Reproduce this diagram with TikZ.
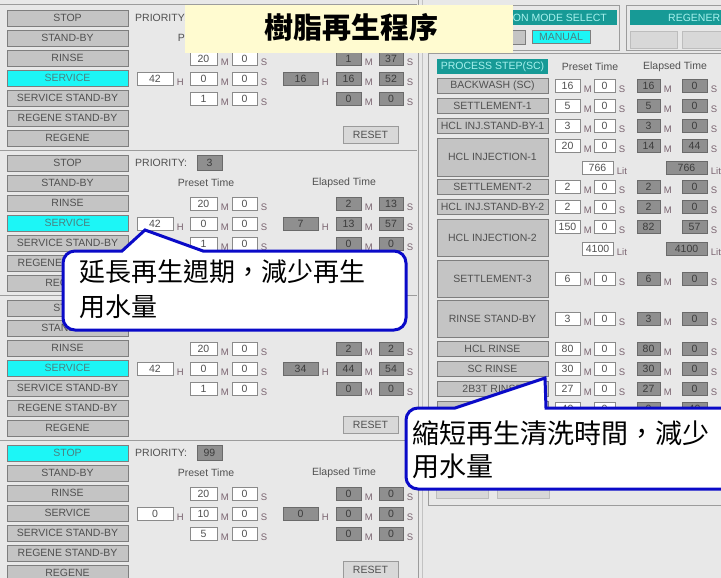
\documentclass[tikz,border=0pt]{standalone}
\usepackage{fontspec}
\setmainfont{Liberation Sans}
\newfontfamily\cjk{Noto Sans CJK TC}

\definecolor{bg}{HTML}{E8E8E8}
\definecolor{btnfill}{HTML}{C4C4C4}
\definecolor{btnedge}{HTML}{7E7E7E}
\definecolor{btntext}{HTML}{505050}
\definecolor{oncyan}{HTML}{1CF6F6}
\definecolor{ontext}{HTML}{4A8080}
\definecolor{boxedge}{HTML}{8A8A8A}
\definecolor{valtext}{HTML}{505050}
\definecolor{elapfill}{HTML}{8F8F8F}
\definecolor{elapedge}{HTML}{6A6A6A}
\definecolor{elaptext}{HTML}{3C3C3C}
\definecolor{unitcol}{HTML}{7A6470}
\definecolor{lbltext}{HTML}{505050}
\definecolor{hdrteal}{HTML}{179A96}
\definecolor{hdrtext}{HTML}{A8F2EE}
\definecolor{dimbtn}{HTML}{D8D8D8}
\definecolor{dimedge}{HTML}{BDBDBD}
\definecolor{resetfill}{HTML}{D8D8D8}
\definecolor{resetedge}{HTML}{9A9A9A}
\definecolor{rule}{HTML}{9C9C9C}
\definecolor{titlebg}{HTML}{FFFBD0}
\definecolor{callblue}{HTML}{0A0AC8}

% value box with its unit letter
\newcommand{\tcell}[6]{%
  \node[#4, minimum width=#3pt] (#1) at (#2) {#5};
  \node[unit] (#1u) at ([xshift=3.5pt]#1.south east) {#6};
}

\begin{document}
\begin{tikzpicture}[x=1pt, y=-1pt,
  txt/.style={font=\fontsize{10.5}{12}\selectfont},
  btn/.style={txt, draw=btnedge, fill=btnfill, text=btntext, minimum height=16pt, inner sep=0pt},
  btnon/.style={btn, fill=oncyan, text=ontext},
  dim/.style={draw=dimedge, fill=dimbtn, inner sep=0pt},
  hdr/.style={txt, fill=hdrteal, text=hdrtext, inner sep=0pt, minimum height=15pt},
  pv/.style={txt, draw=boxedge, fill=white, text=valtext, minimum height=13pt, inner sep=0pt},
  ev/.style={pv, draw=elapedge, fill=elapfill, text=elaptext},
  unit/.style={anchor=south west, inner sep=0pt, text=unitcol, font=\fontsize{9.5}{10}\selectfont},
  lbl/.style={txt, inner sep=0pt, text=lbltext},
  reset/.style={btn, fill=resetfill, draw=resetedge, minimum width=55pt, minimum height=17pt},
  sep/.style={draw=rule, line width=1pt},
  callout/.style={draw=callblue, line width=3pt, fill=white},
  note/.style={font=\cjk\fontsize{26}{35}\selectfont, align=left, anchor=north west, inner sep=0pt}
]
\useasboundingbox (0,0) rectangle (721,578);
\fill[bg] (0,0) rectangle (721,578);

% left panel, four units
\foreach \off/\on [count=\kk] in {0/3,145/3,290/3,435/0}{
  \draw[sep] (0,\off+5) -- (417,\off+5);
  \foreach \lbl [count=\row from 0] in {STOP,STAND-BY,RINSE,SERVICE,SERVICE STAND-BY,REGENE STAND-BY,REGENE}{
    \ifnum\row=\on \def\sty{btnon}\else\def\sty{btn}\fi
    \node[\sty, minimum width=121pt] (u\kk b\row) at (67.5,\off+18+20*\row) {\lbl};
  }
}
\node[lbl, anchor=west] (pr1) at (135,18) {PRIORITY:};
\node[lbl, anchor=west] (pr2) at (135,163) {PRIORITY:};
\node[ev, minimum width=25pt, minimum height=15pt] (pv2) at (209.5,163) {3};
\node[lbl, anchor=west] (pr4) at (135,453) {PRIORITY:};
\node[ev, minimum width=25pt, minimum height=15pt] (pv4) at (209.5,453) {99};
\foreach \off/\kk in {0/1,145/2,435/4}
  \node[lbl] (pt\kk) at (206,\off+38) {Preset Time};
\foreach \off/\kk in {145/2,435/4}
  \node[lbl] (et\kk) at (344,\off+38) {Elapsed Time};
\foreach \off/\kk in {0/1,290/3,435/4}
  \node[reset] (rs\kk) at (370.5,\off+135) {RESET};

% preset times
\foreach \off/\kk/\ra/\rb/\xa/\xb/\xc/\ya/\yb in {0/1/20/0/42/0/0/1/0,145/2/20/0/42/0/0/1/0,290/3/20/0/42/0/0/1/0,435/4/20/0/0/10/0/5/0}{
  \tcell{p\kk-ra}{203.5,\off+59}{27}{pv}{\ra}{M}
  \tcell{p\kk-rb}{244.5,\off+59}{25}{pv}{\rb}{S}
  \tcell{p\kk-xa}{155,\off+79}{36}{pv}{\xa}{H}
  \tcell{p\kk-xb}{203.5,\off+79}{27}{pv}{\xb}{M}
  \tcell{p\kk-xc}{244.5,\off+79}{25}{pv}{\xc}{S}
  \tcell{p\kk-ya}{203.5,\off+99}{27}{pv}{\ya}{M}
  \tcell{p\kk-yb}{244.5,\off+99}{25}{pv}{\yb}{S}
}
% elapsed times
\foreach \off/\kk/\ra/\rb/\xa/\xb/\xc/\ya/\yb in {0/1/1/37/16/16/52/0/0,145/2/2/13/7/13/57/0/0,290/3/2/2/34/44/54/0/0,435/4/0/0/0/0/0/0/0}{
  \tcell{e\kk-ra}{348.5,\off+59}{25}{ev}{\ra}{M}
  \tcell{e\kk-rb}{391,\off+59}{24}{ev}{\rb}{S}
  \tcell{e\kk-xa}{300.5,\off+79}{35}{ev}{\xa}{H}
  \tcell{e\kk-xb}{348.5,\off+79}{25}{ev}{\xb}{M}
  \tcell{e\kk-xc}{391,\off+79}{24}{ev}{\xc}{S}
  \tcell{e\kk-ya}{348.5,\off+99}{25}{ev}{\ya}{M}
  \tcell{e\kk-yb}{391,\off+99}{24}{ev}{\yb}{S}
}
\draw[rule] (418,0) -- (418,578);
\draw[rule!50!bg] (422,0) -- (422,578);

% right panel, process steps
\draw[rule] (428,53) rectangle (730,505);
\node[hdr, minimum width=111pt] (step) at (492.5,67) {PROCESS STEP(SC)};
\node[lbl] (rpt) at (590,67) {Preset Time};
\node[lbl] (ret) at (675,67) {Elapsed Time};
\foreach \n/\lbl/\y/\h/\by/\pa/\pb/\ea/\eu/\eb in {bw/BACKWASH (SC)/86/15/86/16/0/16/M/0,
  st1/SETTLEMENT-1/106/15/106/5/0/5/M/0, sb1/HCL INJ.STAND-BY-1/126/15/126/3/0/3/M/0,
  inj1/HCL INJECTION-1/157/38/146/20/0/14/M/44, st2/SETTLEMENT-2/187/15/187/2/0/2/M/0,
  sb2/HCL INJ.STAND-BY-2/207/15/207/2/0/2/M/0, inj2/HCL INJECTION-2/238/37/227/150/0/82//57,
  st3/SETTLEMENT-3/279/37/279/6/0/6/M/0, rsb/RINSE STAND-BY/319/37/319/3/0/3/M/0,
  hr/HCL RINSE/349/15/349/80/0/80/M/0, sr/SC RINSE/369/15/369/30/0/30/M/0,
  tr/2B3T RINSE/389/15/389/27/0/27/M/0, nx//409/15/409/40/0/0/M/40}{
  \node[btn, minimum width=111pt, minimum height=\h pt] (\n) at (492.5,\y) {\lbl};
  \tcell{\n-pa}{567.5,\by}{25}{pv}{\pa}{M}
  \tcell{\n-pb}{604.5,\by}{21}{pv}{\pb}{S}
  \tcell{\n-ea}{648.5,\by}{23}{ev}{\ea}{\eu}
  \tcell{\n-eb}{694.5,\by}{25}{ev}{\eb}{S}
}
\tcell{inj1-pl}{597.5,168}{31}{pv}{766}{Lit}
\tcell{inj1-el}{686.5,168}{41}{ev}{766}{Lit}
\tcell{inj2-pl}{597.5,249}{31}{pv}{4100}{Lit}
\tcell{inj2-el}{686.5,249}{41}{ev}{4100}{Lit}
\node[dim, minimum width=52pt, minimum height=16pt] (lo1) at (462,490) {};
\node[dim, minimum width=52pt, minimum height=16pt] (lo2) at (523,490) {};

% mode select and regeneration groups
\draw[rule] (470,5) rectangle (619,50);
\node[hdr, minimum width=147pt] (modehdr) at (543.5,17.5) {};
\node[lbl, text=hdrtext, anchor=east] (modetxt) at (607,17.5) {ON MODE SELECT};
\node[btn, minimum width=55pt, minimum height=14pt] (auto) at (497.5,37) {};
\node[btnon, minimum width=58pt, minimum height=13pt] (manual) at (561,36.5) {MANUAL};
\draw[rule] (626,5) rectangle (730,50);
\node[hdr, minimum width=95pt] (reghdr) at (677.5,17.5) {};
\node[lbl, text=hdrtext, anchor=west] (regtxt) at (668,17.5) {REGENER};
\node[dim, minimum width=47pt, minimum height=17pt] (rg1) at (653.5,39.5) {};
\node[dim, minimum width=43pt, minimum height=17pt] (rg2) at (703.5,39.5) {};

% title
\fill[titlebg] (185,5) rectangle (513,53);
\node[font=\cjk\bfseries\fontsize{29}{32}\selectfont, inner sep=0pt] (title) at (351,27) {樹脂再生程序};

% callouts
\draw[callout] (63,290) [rounded corners=12pt] -- (63,251) -- (110,251) [sharp corners] -- (122,251)
  -- (145,230) -- (203,251) -- (215,251) [rounded corners=12pt] -- (406,251) -- (406,330) -- (63,330) -- cycle;
\node[note] (note1) at (79,259) {延長再生週期，減少再生\\用水量};
\draw[callout] (406,450) [rounded corners=12pt] -- (406,408) -- (440,408) [sharp corners] -- (455,408)
  -- (545,378) -- (546,408) -- (560,408) [rounded corners=12pt] -- (735,408) -- (735,489) -- (406,489) -- cycle;
\node[note, font=\cjk\fontsize{27}{33}\selectfont] (note2) at (412,420) {縮短再生清洗時間，減少\\用水量};
\end{tikzpicture}
\end{document}
